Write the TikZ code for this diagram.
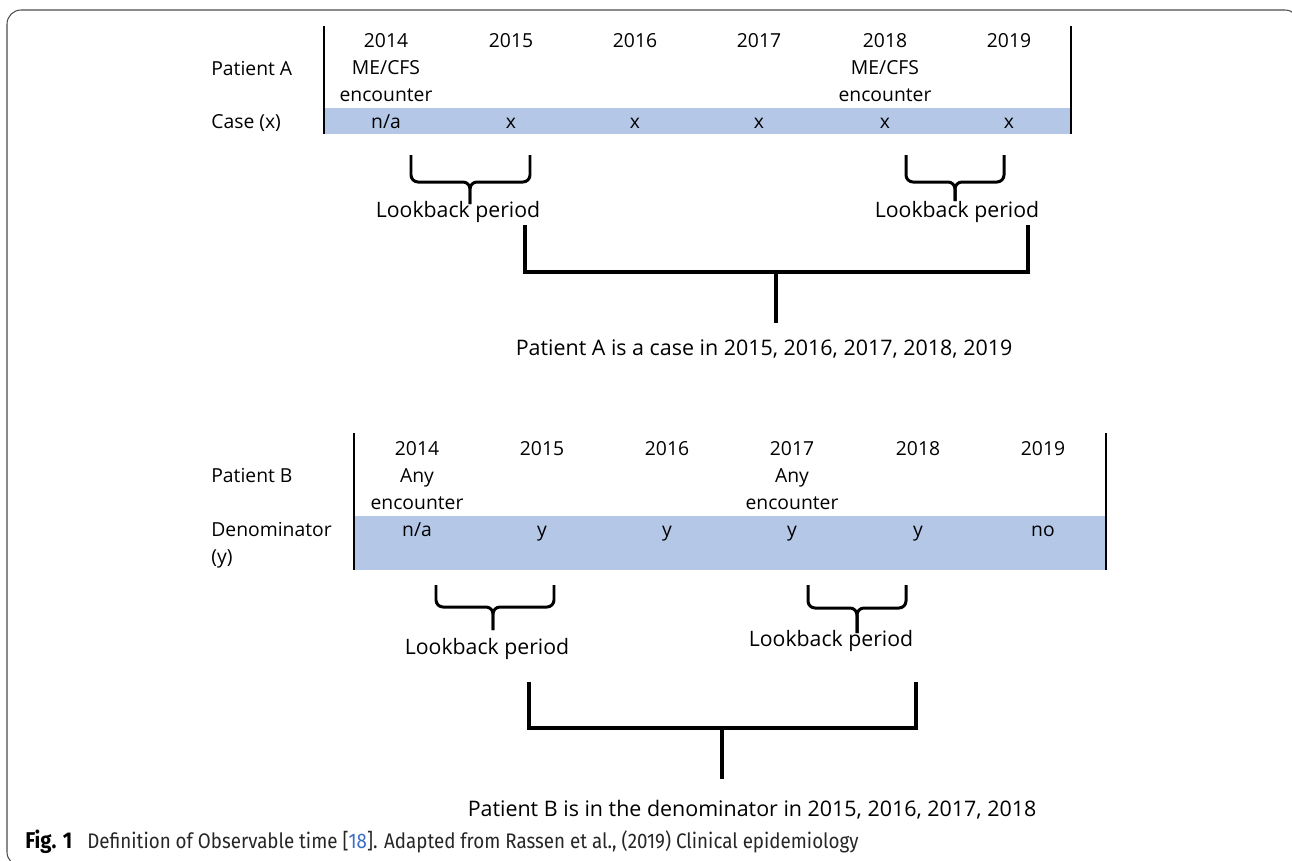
\documentclass[tikz,border=0pt]{standalone}
\usepackage{fontspec}
\setmainfont{Open Sans}
\newfontfamily\capfont[FakeStretch=0.89]{Fira Sans}
\usetikzlibrary{positioning}
\definecolor{bandblue}{HTML}{B4C7E7}
\definecolor{citeblue}{HTML}{3B6FC4}

\begin{document}
\begin{tikzpicture}[x=0.02cm, y=-0.02cm]
            \tikzstyle{cell} = [inner sep=0pt, anchor=base, font=\fontsize{11}{15}\selectfont]
            \tikzstyle{rowlabel} = [cell, anchor=base west]
            \tikzstyle{lookback} = [inner sep=0pt, anchor=base, font=\fontsize{12.1}{15}\selectfont]
            \tikzstyle{summary} = [inner sep=0pt, anchor=base, font=\fontsize{12.2}{15}\selectfont]
            \tikzstyle{axis} = [line width=1.4pt]
            \tikzstyle{brace} = [line width=1.7pt, rounded corners=4pt]
            \tikzstyle{bracket} = [line width=2pt]

            \useasboundingbox (0,0) rectangle (1292,860);
            \draw [black!70, line width=0.6pt, rounded corners=8pt] (7,10) rectangle (1299,866);

            % Patient A
            \fill [bandblue] (324,108) rectangle (1071,134);
            \draw [axis] (324,26) -- (324,134);
            \draw [axis] (1071,26) -- (1071,134);

            \node (patA) [rowlabel] at (211,75) {Patient A};
            \node (caseA) [rowlabel] at (211,128) {Case (x)};

            \node (yA14) [cell] at (386,47) {2014};
            \node (yA15) [cell] at (511,47) {2015};
            \node (yA16) [cell] at (635,47) {2016};
            \node (yA17) [cell] at (759,47) {2017};
            \node (yA18) [cell] at (885,47) {2018};
            \node (yA19) [cell] at (1009,47) {2019};

            \node (meA14) [cell] at (386,74) {ME/CFS};
            \node (encA14) [cell] at (386,101) {encounter};
            \node (meA18) [cell] at (885,74) {ME/CFS};
            \node (encA18) [cell] at (885,101) {encounter};

            \node (xA14) [cell] at (386,128) {n/a};
            \node (xA15) [cell] at (511,128) {x};
            \node (xA16) [cell] at (635,128) {x};
            \node (xA17) [cell] at (759,128) {x};
            \node (xA18) [cell] at (885,128) {x};
            \node (xA19) [cell] at (1009,128) {x};

            % Lookback braces A
            \draw [brace] (411,155) -- (411,182) -- (470,182) -- (470,204);
            \draw [brace] (530,155) -- (530,182) -- (470,182) -- (470,204);
            \node (lbA1) [lookback] at (458,217) {Lookback period};

            \draw [brace] (906,155) -- (906,182) -- (955,182) -- (955,201);
            \draw [brace] (1004,155) -- (1004,182) -- (955,182) -- (955,201);
            \node (lbA2) [lookback] at (957,217) {Lookback period};

            \draw [bracket] (525,225) -- (525,272) -- (1028,272) -- (1028,225);
            \draw [bracket] (776,272) -- (776,323);
            \node (sumA) [summary] at (764,355) {Patient A is a case in 2015, 2016, 2017, 2018, 2019};

            % Patient B
            \fill [bandblue] (354,516) rectangle (1106,570);
            \draw [axis] (354,433) -- (354,570);
            \draw [axis] (1106,433) -- (1106,570);

            \node (patB) [rowlabel] at (211,482) {Patient B};
            \node (denB) [rowlabel] at (211,536) {Denominator};
            \node (denyB) [rowlabel] at (211,563) {(y)};

            \node (yB14) [cell] at (417,455) {2014};
            \node (yB15) [cell] at (542,455) {2015};
            \node (yB16) [cell] at (667,455) {2016};
            \node (yB17) [cell] at (792,455) {2017};
            \node (yB18) [cell] at (918,455) {2018};
            \node (yB19) [cell] at (1043,455) {2019};

            \node (anyB14) [cell] at (417,482) {Any};
            \node (encB14) [cell] at (417,509) {encounter};
            \node (anyB17) [cell] at (792,482) {Any};
            \node (encB17) [cell] at (792,509) {encounter};

            \node (vB14) [cell] at (417,536) {n/a};
            \node (vB15) [cell] at (542,536) {y};
            \node (vB16) [cell] at (667,536) {y};
            \node (vB17) [cell] at (792,536) {y};
            \node (vB18) [cell] at (918,536) {y};
            \node (vB19) [cell] at (1043,536) {no};

            % Lookback braces B
            \draw [brace] (436,585) -- (436,607) -- (493,607) -- (493,630);
            \draw [brace] (554,585) -- (554,607) -- (493,607) -- (493,630);
            \node (lbB1) [lookback] at (487,654) {Lookback period};

            \draw [brace] (808,585) -- (808,608) -- (857,608) -- (857,633);
            \draw [brace] (906,585) -- (906,608) -- (857,608) -- (857,633);
            \node (lbB2) [lookback] at (831,646) {Lookback period};

            \draw [bracket] (529,682) -- (529,728) -- (916,728) -- (916,682);
            \draw [bracket] (722,728) -- (722,779);
            \node (sumB) [summary] at (752,816) {Patient B is in the denominator in 2015, 2016, 2017, 2018};

            % Caption
            \node (figno) [inner sep=0pt, anchor=base west, font=\capfont\fontsize{13}{15}\selectfont\bfseries] at (25,848) {Fig. 1};
            \node (figcap) [inner sep=0pt, anchor=base west, text=black!85, font=\capfont\fontsize{12}{14}\selectfont] at (87,848) {Definition of Observable time [\textcolor{citeblue}{18}]. Adapted from Rassen et al., (2019) Clinical epidemiology};
        \end{tikzpicture}
\end{document}
